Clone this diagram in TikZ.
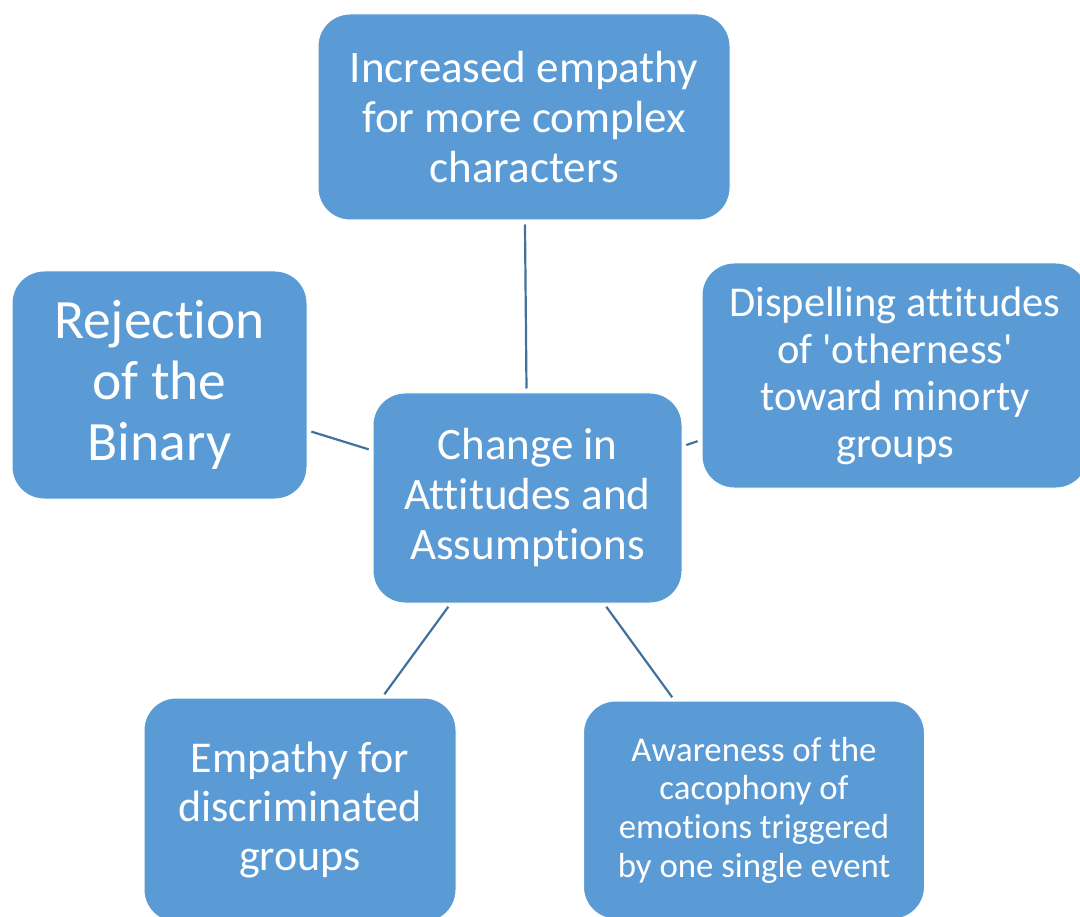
\documentclass[tikz,border=0pt]{standalone}
\usepackage{fontspec}
\setmainfont{Carlito}[Ligatures={TeXOff,NoCommon}]
\usepackage{xcolor}
\usepackage{tikz}
\usetikzlibrary{positioning}
\definecolor{boxblue}{HTML}{5B9BD5}
\definecolor{linkblue}{HTML}{41719C}

\begin{document}
\begin{tikzpicture}[x=1pt, y=-1pt,
  bubble/.style={fill=boxblue, draw=white, line width=1pt, rounded corners=32pt,
    text=white, align=center, inner sep=0pt},
  link/.style={draw=linkblue, line width=2.2pt, shorten <=4pt, shorten >=4pt}]
  \useasboundingbox (0,0) rectangle (1080,917);
  \node[bubble, minimum width=309pt, minimum height=210pt, font=\fontsize{45}{50}\selectfont]
    (hub) at (527.5,498) {Change in\\Attitudes and\\Assumptions};
  \node[bubble, minimum width=412pt, minimum height=206pt, font=\fontsize{45}{50}\selectfont]
    (top) at (524,117) {Increased empathy\\for more complex\\characters};
  \node[bubble, minimum width=295pt, minimum height=228pt, font=\fontsize{55.5}{61}\selectfont]
    (left) at (159.5,385) {Rejection\\of the\\Binary};
  \node[bubble, minimum width=386pt, minimum height=225pt, font=\fontsize{42.5}{47}\selectfont]
    (right) at (895,375.5) {Dispelling attitudes\\of 'otherness'\\toward minorty\\groups};
  \node[bubble, minimum width=312pt, minimum height=224pt, font=\fontsize{44}{49}\selectfont]
    (lowleft) at (300,810) {Empathy for\\discriminated\\groups};
  \node[bubble, minimum width=341pt, minimum height=218pt, font=\fontsize{34.8}{38.7}\selectfont]
    (lowright) at (754,810) {Awareness of the\\cacophony of\\emotions triggered\\by one single event};
  \foreach \n in {top,left,right,lowleft,lowright} { \draw[link] (hub) -- (\n); }
\end{tikzpicture}
\end{document}
